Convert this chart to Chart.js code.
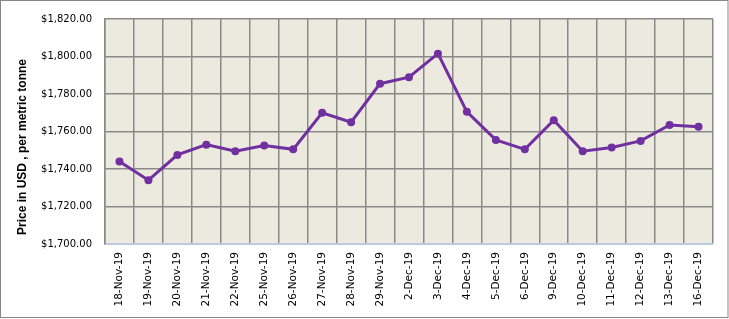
<!DOCTYPE html>
<html>
<head>
<meta charset="utf-8">
<script src="https://cdn.jsdelivr.net/npm/chart.js@4"></script>
<style>
  html, body { margin: 0; padding: 0; background: #fff; }
  canvas { display: block; }
</style>
</head>
<body>
<canvas id="price-chart-id" width="729" height="319"></canvas>
<script>
const DATES = ['18-Nov-19', '19-Nov-19', '20-Nov-19', '21-Nov-19', '22-Nov-19', '25-Nov-19', '26-Nov-19',
    '27-Nov-19', '28-Nov-19', '29-Nov-19', '2-Dec-19', '3-Dec-19', '4-Dec-19', '5-Dec-19', '6-Dec-19',
    '9-Dec-19', '10-Dec-19', '11-Dec-19', '12-Dec-19', '13-Dec-19', '16-Dec-19']
const PRICES = [1744, 1734, 1747.5, 1753, 1749.5, 1752.5, 1750.5, 1770, 1765, 1785.5, 1789, 1801.5,
    1770.5, 1755.5, 1750.5, 1766, 1749.5, 1751.5, 1755, 1763.5, 1762.5]
const Y_MIN = 1700
const Y_MAX = 1820
const Y_STEP = 20
const Y_TITLE = 'Price in USD , per metric tonne'

const PLOT_BG = '#ECEADF'
const GRID_COLOR = '#898989'
const LINE_COLOR = '#7030A0'

const frame = {
    id: 'frame',
    beforeDraw(chart) {
        const { ctx, chartArea: a } = chart
        ctx.save()
        ctx.fillStyle = PLOT_BG
        ctx.fillRect(a.left, a.top, a.right - a.left, a.bottom - a.top)
        ctx.restore()
    },
    afterDraw(chart) {
        const ctx = chart.ctx
        ctx.save()
        // outer border
        ctx.strokeStyle = '#878787'
        ctx.lineWidth = 1
        ctx.strokeRect(0.5, 0.5, 727.5, 317)
        // y axis title
        ctx.translate(23, 147)
        ctx.rotate(-Math.PI / 2)
        ctx.fillStyle = '#000'
        ctx.font = 'bold 12px "Liberation Sans", Arial, sans-serif'
        ctx.textAlign = 'center'
        ctx.textBaseline = 'middle'
        ctx.fillText(Y_TITLE, 0, 0)
        ctx.restore()
    }
}

new Chart(document.getElementById('price-chart-id'), {
    type: 'line',
    data: {
        labels: DATES,
        datasets: [{
            data: PRICES,
            borderColor: LINE_COLOR,
            backgroundColor: LINE_COLOR,
            borderWidth: 3,
            pointRadius: 4,
            pointHoverRadius: 4,
            pointBorderWidth: 0,
            tension: 0
        }]
    },
    options: {
        responsive: false,
        animation: false,
        devicePixelRatio: 1,
        layout: { padding: { left: 0, top: 14, right: 16, bottom: 0 } },
        plugins: {
            legend: { display: false },
            tooltip: { enabled: false }
        },
        scales: {
            x: {
                offset: true,
                grid: { offset: true, color: GRID_COLOR, lineWidth: 1.5, drawTicks: false },
                border: { color: '#B9CBE6', width: 1.5 },
                ticks: {
                    autoSkip: false,
                    maxRotation: 90,
                    minRotation: 90,
                    padding: 8,
                    color: '#000',
                    font: { family: '"DejaVu Sans", Verdana, sans-serif', size: 10.5 }
                },
                afterFit: s => { s.height = 75 }
            },
            y: {
                min: Y_MIN,
                max: Y_MAX,
                grid: { color: GRID_COLOR, lineWidth: 1.5, drawTicks: false },
                border: { color: GRID_COLOR, width: 1.5 },
                ticks: {
                    stepSize: Y_STEP,
                    padding: 13,
                    color: '#000',
                    font: { family: '"DejaVu Sans", Verdana, sans-serif', size: 10 },
                    callback: v => '$' + v.toLocaleString('en-US', { minimumFractionDigits: 2, maximumFractionDigits: 2 })
                },
                afterFit: s => { s.width = 105 }
            }
        }
    },
    plugins: [frame]
})
</script>
</body>
</html>
